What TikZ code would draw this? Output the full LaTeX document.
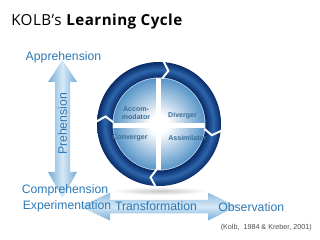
\documentclass[tikz,border=0pt]{standalone}
\usepackage{fontspec}
\setsansfont{Liberation Sans}
\newfontfamily\titlefont[LetterSpace=3]{Open Sans}
\usetikzlibrary{positioning}
\definecolor{termblue}{RGB}{45,120,180}
\definecolor{ringdark}{RGB}{8,42,102}
\definecolor{ringmid}{RGB}{45,102,172}
\definecolor{discedge}{RGB}{85,148,200}
\definecolor{quadtext}{RGB}{60,110,150}
\definecolor{arrowblue}{RGB}{115,172,215}
\definecolor{arrowlight}{RGB}{215,233,246}
\pgfdeclareradialshading{ringshade}{\pgfpoint{0bp}{0bp}}{color(0bp)=(ringdark); color(18.75bp)=(ringdark); color(21.9bp)=(ringmid); color(25bp)=(ringdark); color(50bp)=(ringdark)}
\pgfdeclareradialshading{discshade}{\pgfpoint{0bp}{0bp}}{color(0bp)=(white); color(5bp)=(white); color(25bp)=(discedge); color(50bp)=(discedge)}

\begin{document}
\begin{tikzpicture}[
    x=0.025cm, y=0.025cm,
    term/.style={font=\sffamily\fontsize{8.7}{10}\selectfont, text=termblue, inner sep=0pt},
    quad/.style={font=\sffamily\bfseries\fontsize{5}{5.8}\selectfont, text=quadtext, align=center, inner sep=0pt},
    varrow/.style={left color=arrowblue, right color=arrowblue, middle color=arrowlight},
    harrow/.style={top color=arrowblue!80, bottom color=arrowblue, middle color=arrowlight},
    notch/.style={white, line width=1.4pt, line join=miter}
  ]
  \useasboundingbox (0,0) rectangle (320,240);

  \node[anchor=west, inner sep=0pt] (title) at (11,218)
    {\titlefont\fontsize{10.8}{12}\selectfont KOLB’s \textbf{Learning Cycle}};

  % the two axes
  \shade[varrow] (55,158) -- (48,158) -- (62.5,180) -- (77,158) -- (70,158)
    -- (70,68) -- (77,68) -- (62.5,42) -- (48,68) -- (55,68) -- cycle;
  \shade[harrow] (110,40) -- (110,47.3) -- (80,33.5) -- (110,19.5) -- (110,26.7)
    -- (208,26.7) -- (208,19.5) -- (237,33.5) -- (208,47.3) -- (208,40) -- cycle;

  % shadow under the cycle
  \shade[inner color=black!22, outer color=white] (160,49) ellipse (48 and 4);

  % the cycle
  \coordinate (c) at (159,116);
  \shade[shading=discshade] (c) circle (46);
  \begin{scope}
    \clip (c) circle (46);
    \fill[white] (155.5,60) rectangle (160.5,170);
    \fill[white] (100,111.5) rectangle (220,116.5);
  \end{scope}
  \draw[white!60!discedge, line width=0.4pt] (c) circle (46);
  \shade[shading=ringshade, even odd rule] (c) circle (62) (c) circle (46.5);
  \begin{scope}[shift={(c)}]
    \foreach \a in {86,-6,-93,178}
      \draw[notch] (\a:63) -- (\a-6:54) -- (\a:45.5);
  \end{scope}

  \node[quad] (acc)   at (136,127)   {Accom-\\modator};
  \node[quad] (div)   at (182.5,124.3) {Diverger};
  \node[quad] (conv)  at (130,102.3) {Converger};
  \node[quad] (assim) at (187.5,102.3) {Assimilator};

  % axis labels
  \node[term] (appr) at (63.5,183) {Apprehension};
  \node[term, rotate=90] (preh) at (62.5,116) {Prehension};
  \node[term] (comp) at (65,49.5) {Comprehension};
  \node[term, anchor=west] (exper) at (22.5,34) {Experimentation};
  \node[term] (transf) at (156,34) {Transformation};
  \node[term, anchor=west] (obs) at (218,32.5) {Observation};

  \node[anchor=east, inner sep=0pt, font=\sffamily\fontsize{5.1}{6}\selectfont, text=black!70]
    (cite) at (312,12) {(Kolb,\ \ 1984 \& Kreber, 2001)};
\end{tikzpicture}
\end{document}
